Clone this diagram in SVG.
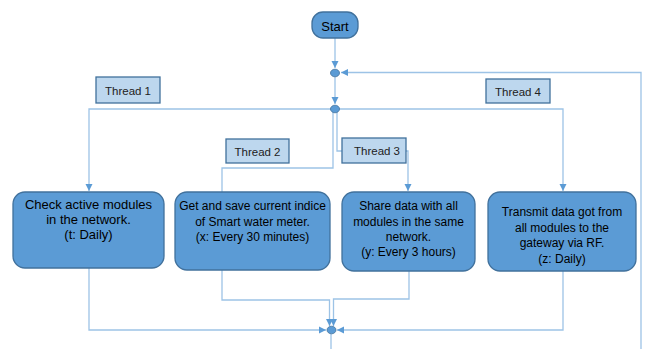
<svg xmlns="http://www.w3.org/2000/svg" width="645" height="349" viewBox="0 0 645 349">
<style>
.ln{fill:none;stroke:#9DC3E6;stroke-width:1.3}
.jn{fill:#5B9BD5;stroke:#41719C;stroke-width:0.8}
.proc{fill:#5B9BD5;stroke:#41719C;stroke-width:1.3}
.lbl{fill:#BDD7EE;stroke:#41719C;stroke-width:1.3}
.ta{font-family:"Liberation Sans",Arial,sans-serif;font-size:13px;fill:#000;text-anchor:middle}
.tc{font-family:"Liberation Sans",Arial,sans-serif;font-size:12px;fill:#000;text-anchor:middle}
.tl{font-family:"Liberation Sans",Arial,sans-serif;font-size:11.5px;fill:#222;text-anchor:middle}
</style>
<defs>
<marker id="ah" markerWidth="8" markerHeight="8" refX="7" refY="4" orient="auto" markerUnits="userSpaceOnUse">
<path d="M0,0.5 L7,4 L0,7.5 Z" fill="#5B9BD5"/>
</marker>
</defs>
<g id="connectors">
<path class="ln" d="M335,38 V68" marker-end="url(#ah)"/>
<path class="ln" d="M641,349 V72.5 H341" marker-end="url(#ah)"/>
<path class="ln" d="M335,77 V104" marker-end="url(#ah)"/>
<path class="ln" d="M331,109 H89 V191" marker-end="url(#ah)"/>
<path class="ln" d="M339,109 H563 V191" marker-end="url(#ah)"/>
<path class="ln" d="M333,112 V168 H222 V192"/>
<path class="ln" d="M337,112 V151 H342"/>
<path class="ln" d="M406,151 H408 V191" marker-end="url(#ah)"/>
<path class="ln" d="M89,268 V330 H326" marker-end="url(#ah)"/>
<path class="ln" d="M563,271 V330 H337" marker-end="url(#ah)"/>
<path class="ln" d="M222,270 V300 H329.5 V326" marker-end="url(#ah)"/>
<path class="ln" d="M409,271 V299 H333.5 V326" marker-end="url(#ah)"/>
<path class="ln" d="M331,334 V349"/>
</g>
<g id="start">
<rect x="312" y="12" width="46" height="26" rx="11" class="proc"/>
<text x="335" y="30.5" class="ta">Start</text>
</g>
<g id="junction1"><ellipse cx="335" cy="73" rx="4.5" ry="3.8" class="jn"/></g>
<g id="junction2"><ellipse cx="335" cy="109" rx="4.5" ry="3.8" class="jn"/></g>
<g id="junction3"><ellipse cx="331.5" cy="330" rx="4.5" ry="3.8" class="jn"/></g>
<g id="thread1">
<rect x="96" y="77" width="64" height="26" class="lbl"/>
<text x="128" y="94.5" class="tl">Thread 1</text>
</g>
<g id="thread2">
<rect x="226" y="139" width="63" height="24" class="lbl"/>
<text x="257.5" y="155.5" class="tl">Thread 2</text>
</g>
<g id="thread3">
<rect x="342" y="138" width="64" height="25" class="lbl"/>
<text x="377" y="155" class="tl">Thread 3</text>
</g>
<g id="thread4">
<rect x="486" y="79" width="64" height="24" class="lbl"/>
<text x="518" y="95.5" class="tl">Thread 4</text>
</g>
<g id="box1">
<rect x="13" y="192" width="151" height="76" rx="12" class="proc"/>
<text x="88.5" y="209" class="ta">Check active modules</text>
<text x="88.5" y="224" class="ta">in the network.</text>
<text x="88.5" y="239" class="ta">(t: Daily)</text>
</g>
<g id="box2">
<rect x="175" y="192" width="155" height="78" rx="12" class="proc"/>
<text x="252.5" y="210" class="tc">Get and save current indice</text>
<text x="252.5" y="226" class="tc">of Smart water meter.</text>
<text x="252.5" y="241" class="tc">(x: Every 30 minutes)</text>
</g>
<g id="box3">
<rect x="342" y="192" width="133" height="79" rx="12" class="proc"/>
<text x="408.5" y="210" class="tc">Share data with all</text>
<text x="408.5" y="226" class="tc">modules in the same</text>
<text x="408.5" y="241" class="tc">network.</text>
<text x="408.5" y="256" class="tc">(y: Every 3 hours)</text>
</g>
<g id="box4">
<rect x="488" y="192" width="148" height="79" rx="12" class="proc"/>
<text x="562" y="216" class="tc">Transmit data got from</text>
<text x="562" y="232" class="tc">all modules to the</text>
<text x="562" y="247" class="tc">gateway via RF.</text>
<text x="562" y="263" class="tc">(z: Daily)</text>
</g>
</svg>
